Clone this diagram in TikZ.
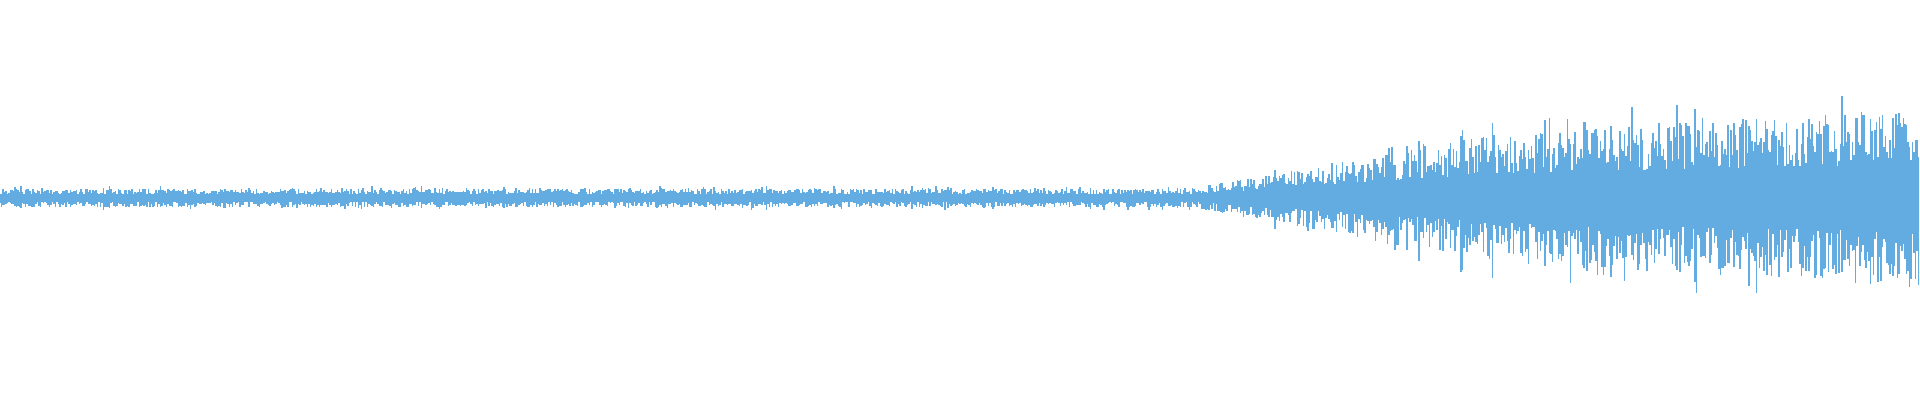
\documentclass[tikz,border=0pt]{standalone}
\definecolor{wave}{RGB}{98,172,226}
\begin{document}
\begin{tikzpicture}[x=0.01cm,y=0.01cm,wv/.style={draw=wave,line width=0.3pt}]
\useasboundingbox (0,0) rectangle (1920,400);
\pgfmathsetseed{7}
\foreach \i in {0,...,1279}{
  \pgfmathsetmacro\x{\i*1.5}
  \pgfmathsetmacro\g{8+min(max(\x-1190,0)/300,1)*45+max(\x-1490,0)/430*22}
  \pgfmathsetmacro\r{rnd}
  \pgfmathsetmacro\a{\g*(0.45+0.75*rnd+(\r>0.9?0.35:0))}
  \pgfmathsetmacro\b{\g*(0.45+0.75*rnd+(\r>0.9?0.35:0))}
  \draw[wv] (\x,202+\a) -- (\x,202-\b);
}
\end{tikzpicture}
\end{document}
